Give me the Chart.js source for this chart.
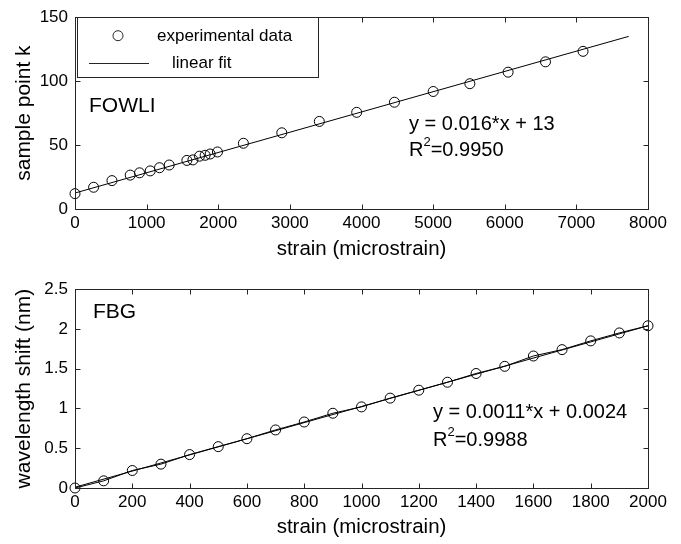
<!DOCTYPE html>
<html>
<head>
<meta charset="utf-8">
<script src="https://cdn.jsdelivr.net/npm/chart.js@4.4.1/dist/chart.umd.min.js"></script>
<style>
  html, body { margin: 0; padding: 0; background: #fff; }
  .panel { position: absolute; left: 0; width: 681px; height: 272px; }
</style>
</head>
<body>
<div class="panel" style="top:0"><canvas id="fowli"></canvas></div>
<div class="panel" style="top:272px"><canvas id="fbg"></canvas></div>
<script>
// FOWLI: strain vs sample point
const fowliStrain = [0, 260, 516, 771, 901, 1050, 1180, 1315, 1562, 1646, 1738, 1817, 1887, 1989,
  2351, 2887, 3411, 3933, 4460, 5001, 5513, 6047, 6569, 7093];
const fowliK = [12, 17, 22.2, 26.5, 28.3, 29.8, 32.3, 34.4, 38.0, 38.4, 41.3, 42.0, 43.0, 44.6,
  51.4, 59.6, 68.5, 75.6, 83.5, 91.9, 98.0, 107.0, 115.1, 123.3];
const fowliFitX = [0, 7730];
const fowliFitY = [12.5, 135];

// FBG: strain vs wavelength shift
const fbgStrain = [0, 100, 200, 300, 400, 500, 600, 700, 800, 900, 1000,
  1100, 1200, 1300, 1400, 1500, 1600, 1700, 1800, 1900, 2000];
const fbgShift = [0.00, 0.09, 0.22, 0.30, 0.42, 0.52, 0.62, 0.73, 0.83, 0.94, 1.02,
  1.13, 1.23, 1.33, 1.44, 1.53, 1.66, 1.74, 1.85, 1.95, 2.04];
const fbgFitX = [0, 2000];
const fbgFitY = [0.01, 2.04];

const toPts = (xs, ys) => xs.map((x, i) => ({ x: x, y: ys[i] }));

Chart.defaults.font.family = '"Liberation Sans", Arial, sans-serif';
Chart.defaults.color = '#000';

const FONT = '"Liberation Sans", Arial, sans-serif';

// box, inward ticks, text notes and legend, MATLAB style
const frame = {
  id: 'frame',
  afterDatasetsDraw(chart, args, opts) {
    const { ctx, chartArea: a, scales: { x, y } } = chart;
    const L = Math.round(a.left) + 0.5, R = Math.round(a.right) + 0.5;
    const T = Math.round(a.top) + 0.5, B = Math.round(a.bottom) + 0.5;
    ctx.save();
    ctx.strokeStyle = '#262626';
    ctx.lineWidth = 1;
    ctx.strokeRect(L, T, R - L, B - T);
    ctx.beginPath();
    x.ticks.forEach(t => {
      const p = Math.round(x.getPixelForValue(t.value)) + 0.5;
      ctx.moveTo(p, B); ctx.lineTo(p, B - 5);
      ctx.moveTo(p, T); ctx.lineTo(p, T + 5);
    });
    y.ticks.forEach(t => {
      const p = Math.round(y.getPixelForValue(t.value)) + 0.5;
      ctx.moveTo(L, p); ctx.lineTo(L + 5, p);
      ctx.moveTo(R, p); ctx.lineTo(R - 5, p);
    });
    ctx.stroke();

    ctx.fillStyle = '#000';
    ctx.textBaseline = 'middle';
    ctx.textAlign = 'left';
    (opts.notes || []).forEach(n => {
      let px = a.left + n.dx;
      const py = a.top + n.dy;
      n.parts.forEach(p => {
        if (p.sup) {
          ctx.font = '13px ' + FONT;
          ctx.fillText(p.t, px, py - 8);
        } else {
          ctx.font = (n.size || 20) + 'px ' + FONT;
          ctx.fillText(p.t, px, py);
        }
        px += ctx.measureText(p.t).width;
      });
    });

    const lg = opts.legend;
    if (lg) {
      const bx = Math.round(a.left + 2) + 0.5;
      ctx.fillStyle = '#fff';
      ctx.fillRect(bx, T, lg.w, lg.h);
      ctx.strokeRect(bx, T, lg.w, lg.h);
      ctx.fillStyle = '#000';
      ctx.font = '17px ' + FONT;
      ctx.beginPath();
      ctx.arc(a.left + 43, a.top + 18.5, 5, 0, Math.PI * 2);
      ctx.stroke();
      ctx.fillText(lg.labels[0], a.left + 82, a.top + 19);
      ctx.beginPath();
      ctx.moveTo(a.left + 14, Math.round(a.top + 46) + 0.5);
      ctx.lineTo(a.left + 74, Math.round(a.top + 46) + 0.5);
      ctx.stroke();
      ctx.fillText(lg.labels[1], a.left + 97, a.top + 46);
    }
    ctx.restore();
  }
};

function makeChart(id, pts, showLine, fit, xr, yr, yTitle, padTop, xHeight, xTitlePad, notes, legend) {
  return new Chart(document.getElementById(id), {
    type: 'scatter',
    data: {
      datasets: [{
        label: 'experimental data',
        data: pts,
        showLine: showLine,
        borderColor: '#000',
        borderWidth: 1,
        backgroundColor: 'rgba(0,0,0,0)',
        pointBorderColor: '#000',
        pointBackgroundColor: 'rgba(0,0,0,0)',
        pointRadius: 5,
        pointBorderWidth: 1,
        clip: false
      }, {
        label: 'linear fit',
        data: fit,
        showLine: true,
        borderColor: '#000',
        borderWidth: 1,
        pointRadius: 0,
        clip: false
      }]
    },
    options: {
      responsive: true,
      maintainAspectRatio: false,
      animation: false,
      layout: { padding: { top: padTop, right: 33, left: 0, bottom: 0 } },
      plugins: {
        legend: { display: false },
        tooltip: { enabled: false },
        frame: { notes: notes, legend: legend }
      },
      scales: {
        x: {
          type: 'linear', min: xr[0], max: xr[1],
          grid: { display: false, drawTicks: false },
          border: { display: false },
          ticks: { stepSize: xr[2], padding: 4, font: { size: 17 }, callback: v => String(v) },
          title: { display: true, text: 'strain (microstrain)', font: { size: 20.5 }, padding: { top: 0, bottom: xTitlePad } },
          afterFit: s => { s.height = xHeight; }
        },
        y: {
          type: 'linear', min: yr[0], max: yr[1],
          grid: { display: false, drawTicks: false },
          border: { display: false },
          ticks: { stepSize: yr[2], padding: 7, font: { size: 17 }, callback: v => String(v) },
          title: { display: true, text: yTitle, font: { size: 21 }, padding: { top: 12, bottom: 0 } },
          afterFit: s => { s.width = 75; }
        }
      }
    },
    plugins: [frame]
  });
}

makeChart('fowli', toPts(fowliStrain, fowliK), false, toPts(fowliFitX, fowliFitY),
  [0, 8000, 1000], [0, 150, 50], 'sample point k', 13, 63, 10,
  [
    { dx: 14, dy: 89, size: 21, parts: [{ t: 'FOWLI' }] },
    { dx: 334, dy: 107, parts: [{ t: 'y = 0.016*x + 13' }] },
    { dx: 334, dy: 133, parts: [{ t: 'R' }, { t: '2', sup: true }, { t: '=0.9950' }] }
  ],
  { w: 241, h: 60, labels: ['experimental data', 'linear fit'] });

makeChart('fbg', toPts(fbgStrain, fbgShift), true, toPts(fbgFitX, fbgFitY),
  [0, 2000, 200], [0, 2.5, 0.5], 'wavelength shift (nm)', 10, 56, 4,
  [
    { dx: 18, dy: 23, size: 21, parts: [{ t: 'FBG' }] },
    { dx: 358, dy: 123, parts: [{ t: 'y = 0.0011*x + 0.0024' }] },
    { dx: 358, dy: 151, parts: [{ t: 'R' }, { t: '2', sup: true }, { t: '=0.9988' }] }
  ],
  null);
</script>
</body>
</html>
